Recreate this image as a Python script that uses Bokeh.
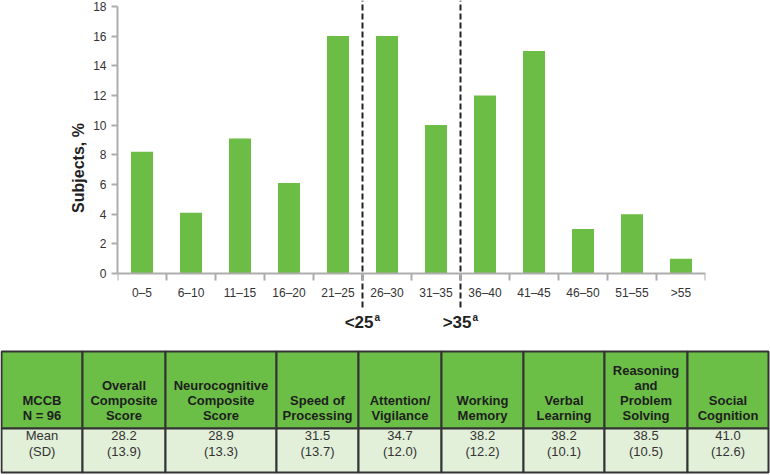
from bokeh.plotting import figure
from bokeh.models import Range1d, FixedTicker
from bokeh.embed import file_html
from bokeh.resources import INLINE
from bokeh.core.properties import value

# ---- data ----
categories = ["0–5", "6–10", "11–15", "16–20", "21–25", "26–30",
              "31–35", "36–40", "41–45", "46–50", "51–55", ">55"]
subjects_pct = [8.2, 4.1, 9.1, 6.1, 16.0, 16.0, 10.0, 12.0, 15.0, 3.0, 4.0, 1.0]
y_ticks = [0, 2, 4, 6, 8, 10, 12, 14, 16, 18]
threshold_labels = ["<25", ">35"]
threshold_after = ["21–25", "31–35"]   # cutoff lies right after these bins

table_headers = ["MCCB\nN = 96", "Overall\nComposite\nScore",
                 "Neurocognitive\nComposite\nScore", "Speed of\nProcessing",
                 "Attention/\nVigilance", "Working\nMemory", "Verbal\nLearning",
                 "Reasoning\nand\nProblem\nSolving", "Social\nCognition"]
row_label = "Mean\n(SD)"
means = [28.2, 28.9, 31.5, 34.7, 38.2, 38.2, 38.5, 41.0]
sds = [13.9, 13.3, 13.7, 12.0, 12.2, 10.1, 10.5, 12.6]

# ---- style ----
FONT = "Liberation Sans"
GREEN = "#6cbd45"
HEAD_FILL = "#6bbe46"
ROW_FILL = "#e2efd9"
AXIS_GRAY = "#adadad"
TXT = "#333333"
DARK = "#222222"

n = len(categories)
centers = [2 * i + 1 for i in range(n)]
bounds = [2 * i for i in range(n + 1)]

# chart: frame spans 0..335 px vertically; 0 at 273 px, 18 at 6 px
p = figure(width=770, height=345, x_range=Range1d(0, 2 * n), y_range=Range1d(-4.18, 18.40),
           output_backend="svg", toolbar_location=None,
           min_border_left=117, min_border_right=65, min_border_top=0, min_border_bottom=10)
p.vbar(x=centers, top=subjects_pct, width=0.9, fill_color=GREEN, line_color=None)

p.xgrid.visible = False
p.ygrid.visible = False
p.outline_line_color = None

xa = p.xaxis[0]
xa.fixed_location = 0
xa.ticker = FixedTicker(ticks=centers, minor_ticks=bounds)
xa.major_label_overrides = {c: cat for c, cat in zip(centers, categories)}
xa.major_tick_line_color = None
xa.major_tick_out = 0
xa.major_tick_in = 0
xa.minor_tick_out = 7
xa.minor_tick_in = 0
xa.minor_tick_line_color = AXIS_GRAY
xa.minor_tick_line_width = 2
xa.axis_line_color = AXIS_GRAY
xa.axis_line_width = 2
xa.major_label_text_font = FONT
xa.major_label_text_font_size = "12px"
xa.major_label_text_color = TXT
xa.major_label_standoff = 6

ya = p.yaxis[0]
ya.bounds = (0, 18)
ya.ticker = FixedTicker(ticks=y_ticks)
ya.minor_tick_line_color = None
ya.major_tick_out = 6
ya.major_tick_in = 0
ya.major_tick_line_color = AXIS_GRAY
ya.major_tick_line_width = 2
ya.axis_line_color = AXIS_GRAY
ya.axis_line_width = 2
ya.major_label_text_font = FONT
ya.major_label_text_font_size = "12px"
ya.major_label_text_color = TXT
ya.major_label_standoff = 5
ya.axis_label = "Subjects, %"
ya.axis_label_text_font = FONT
ya.axis_label_text_font_size = "16px"
ya.axis_label_text_font_style = "bold"
ya.axis_label_text_color = DARK
ya.axis_label_standoff = 3

cut_x = [bounds[categories.index(a) + 1] for a in threshold_after]
p.segment(x0=cut_x, y0=[-2.3] * len(cut_x), x1=cut_x, y1=[18.4] * len(cut_x),
          line_dash="6 3", line_width=2, line_color=DARK)
p.text(x=cut_x, y=[-3.3] * len(cut_x), text=threshold_labels, text_align="right",
       text_baseline="middle", x_offset=11, text_font=value(FONT), text_font_size="17px",
       text_font_style="bold", text_color=DARK)
p.text(x=cut_x, y=[-3.0] * len(cut_x), text=["a"] * len(cut_x), text_align="left",
       text_baseline="middle", x_offset=12, text_font=value(FONT), text_font_size="10px",
       text_font_style="bold", text_color=DARK)

# ---- table ----
col_edges = [1, 82, 165, 276, 358, 441, 523, 604, 687, 768]
t = figure(width=770, height=130, x_range=Range1d(0, 770), y_range=Range1d(475, 345),
           output_backend="svg", toolbar_location=None,
           min_border=0, min_border_left=0, min_border_right=0,
           min_border_top=0, min_border_bottom=0)
t.axis.visible = False
t.grid.visible = False
t.outline_line_color = None

lefts = col_edges[:-1]
rights = col_edges[1:]
mids = [(a + b) / 2 for a, b in zip(lefts, rights)]
t.quad(left=lefts, right=rights, top=[351] * len(lefts), bottom=[428] * len(lefts),
       fill_color=HEAD_FILL, line_color="#333333", line_width=2)
t.quad(left=lefts, right=rights, top=[428] * len(lefts), bottom=[472] * len(lefts),
       fill_color=ROW_FILL, line_color="#333333", line_width=2)

t.text(x=mids, y=[423] * len(mids), text=table_headers, text_align="center",
       text_baseline="bottom", text_font=value(FONT), text_font_size="13px",
       text_font_style="bold", text_color="#1e1e1e", text_line_height=1.02)
row_texts = [row_label] + [f"{m:.1f}\n({s:.1f})" for m, s in zip(means, sds)]
t.text(x=mids, y=[443] * len(mids), text=row_texts, text_align="center",
       text_baseline="middle", text_font=value(FONT), text_font_size="13px",
       text_color=TXT, text_line_height=1.08)

open("out.html", "w").write(file_html([p, t], INLINE))
